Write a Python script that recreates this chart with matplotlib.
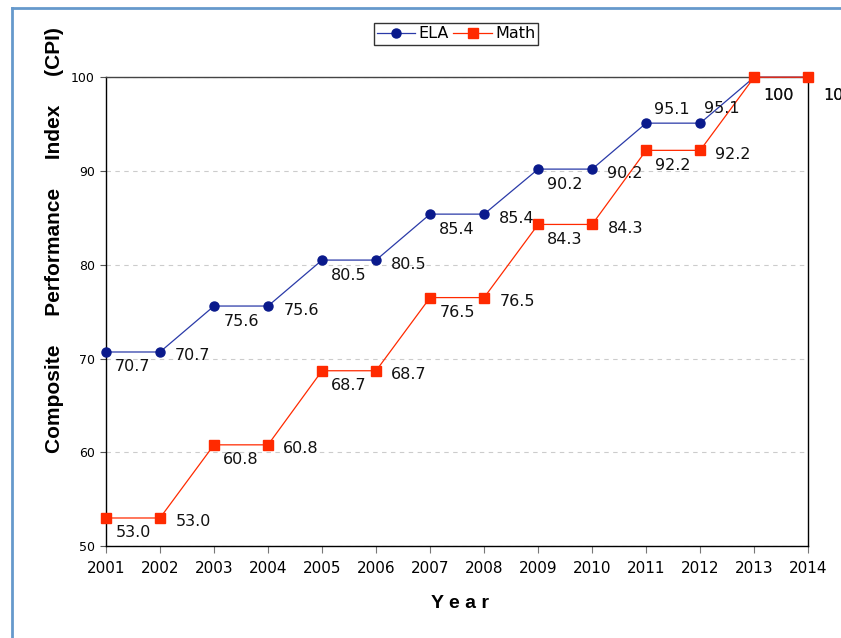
import matplotlib
matplotlib.use("Agg")
import matplotlib.pyplot as plt
from matplotlib.lines import Line2D

# CPI by year
years = [2001, 2002, 2003, 2004, 2005, 2006, 2007, 2008, 2009, 2010, 2011, 2012, 2013, 2014]
ela = [70.7, 70.7, 75.6, 75.6, 80.5, 80.5, 85.4, 85.4, 90.2, 90.2, 95.1, 95.1, 100, 100]
math = [53.0, 53.0, 60.8, 60.8, 68.7, 68.7, 76.5, 76.5, 84.3, 84.3, 92.2, 92.2, 100, 100]
ela_labels = ["70.7", "70.7", "75.6", "75.6", "80.5", "80.5", "85.4", "85.4",
              "90.2", "90.2", "95.1", "95.1", "100", "100"]
math_labels = ["53.0", "53.0", "60.8", "60.8", "68.7", "68.7", "76.5", "76.5",
               "84.3", "84.3", "92.2", "92.2", "100", "100"]

ELA_COLOR = "#0a1a8c"
MATH_COLOR = "#ff2a00"

fig = plt.figure(figsize=(8.41, 6.38), dpi=100)
ax = fig.add_axes([0.126, 0.144, 0.835, 0.735])

ax.plot(years, ela, color="#2a3aa8", lw=0.9, marker="o", ms=6.5,
        mfc=ELA_COLOR, mec=ELA_COLOR, label="ELA", clip_on=False, zorder=3)
ax.plot(years, math, color=MATH_COLOR, lw=0.9, marker="s", ms=7,
        mfc=MATH_COLOR, mec=MATH_COLOR, label="Math", clip_on=False, zorder=4)


def label_offset(i, series):
    # pixel offsets (dx, dy down) for value labels
    if i >= 12:
        return (24, 18) if i == 12 else (30, 18)
    if series == "ela" and i in (10, 11):
        return (26, -14) if i == 10 else (22, -15)
    return (27, 15) if i % 2 == 0 else (33, 4)


for series, vals, labs in (("ela", ela, ela_labels), ("math", math, math_labels)):
    for i, (x, y, t) in enumerate(zip(years, vals, labs)):
        dx, dy = label_offset(i, series)
        ax.annotate(t, (x, y), xytext=(dx * 0.72, -dy * 0.72),
                    textcoords="offset points", ha="center", va="center",
                    fontsize=11.5, color="#111111", annotation_clip=False, zorder=5)

ax.set_xlim(2001, 2014)
ax.set_ylim(50, 100)
ax.set_xticks(years)
ax.set_xticklabels([str(y) for y in years], fontsize=11)
ax.set_yticks([50, 60, 70, 80, 90, 100])
ax.tick_params(axis="y", labelsize=9, length=4, color="#555555", pad=4)
ax.tick_params(axis="x", length=5, color="#777777", pad=6)

ax.yaxis.grid(True, linestyle=(0, (4, 4)), color="#cccccc", lw=0.8)
ax.set_axisbelow(True)
for s in ax.spines.values():
    s.set_linewidth(1.0)
    s.set_color("black")
ax.spines["top"].set_color("#444444")

fig.text(55 / 841, 1 - 240 / 638, "Composite     Performance     Index     (CPI)",
         rotation=90, ha="center", va="center", fontsize=15,
         fontweight="bold", family="Liberation Sans")
fig.text(460 / 841, 1 - 604 / 638, "Y e a r", ha="center", va="center",
         fontsize=14, fontweight="bold", family="Liberation Sans")

leg = fig.legend(loc="center", bbox_to_anchor=(456 / 841, 1 - 34 / 638), ncol=2,
                 fontsize=11.5, frameon=True, fancybox=False, handlelength=2.4,
                 handletextpad=0.2, columnspacing=0.3, borderpad=0.2,
                 borderaxespad=0)
leg.get_frame().set_edgecolor("black")
leg.get_frame().set_linewidth(1.0)

# outer frame lines (left and top)
fig.add_artist(Line2D([12 / 841, 12 / 841], [0, 1 - 8 / 638],
                      transform=fig.transFigure, color="#6699cc", lw=2))
fig.add_artist(Line2D([12 / 841, 1], [1 - 8 / 638, 1 - 8 / 638],
                      transform=fig.transFigure, color="#6699cc", lw=2))

fig.savefig("out.png", dpi=100)
